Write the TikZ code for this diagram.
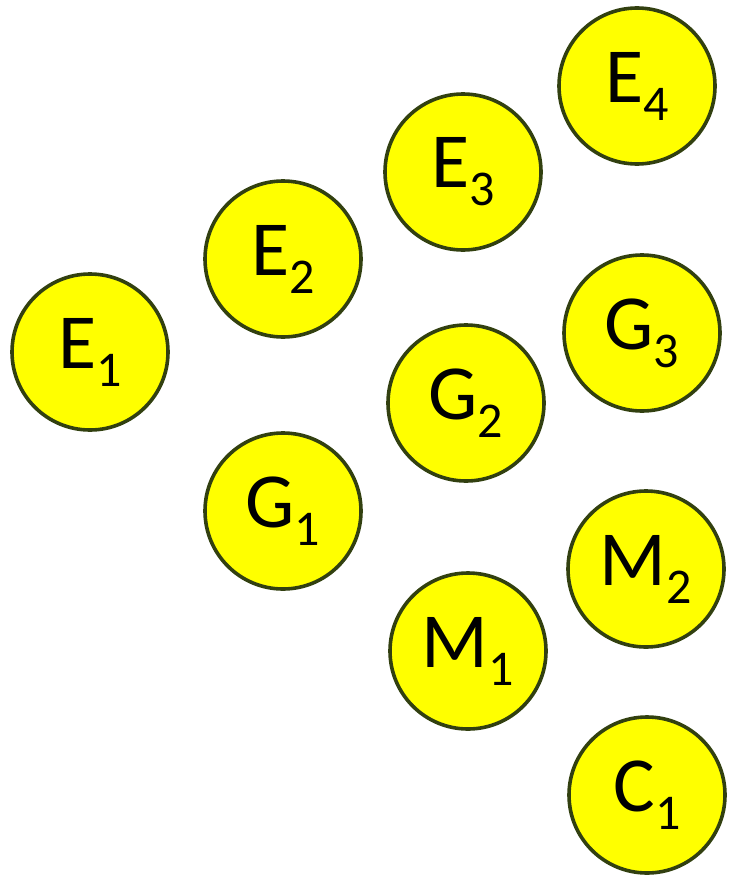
\documentclass[tikz,border=0pt]{standalone}
\usepackage{fontspec}
\setmainfont{Carlito}
\usepackage{tikz}
\definecolor{rim}{RGB}{50,64,16}
\definecolor{ballfill}{RGB}{255,255,0}
\newcommand{\sublab}[2]{#1\raisebox{-18pt}{\fontsize{50}{50}\selectfont #2}}

\begin{document}
\begin{tikzpicture}[x=1pt,y=-1pt,
  ball/.style={circle,draw=rim,fill=ballfill,line width=3.6pt,minimum size=156pt,inner sep=0pt,
    font=\fontsize{78}{80}\selectfont}]
\useasboundingbox(0,0)rectangle(728,875);
\node[ball](e1)at(90,352){\sublab{E}{1}};
\node[ball](e2)at(283,259){\sublab{E}{2}};
\node[ball](e3)at(463,172){\sublab{E}{3}};
\node[ball](e4)at(637,86){\sublab{E}{4}};
\node[ball](g1)at(283,511){\sublab{G}{1}};
\node[ball](g2)at(466,403){\sublab{G}{2}};
\node[ball](g3)at(642,333){\sublab{G}{3}};
\node[ball](m1)at(468,651){\sublab{M}{1}};
\node[ball](m2)at(646,569){\sublab{M}{2}};
\node[ball](c1)at(647,795){\sublab{C}{1}};
\end{tikzpicture}
\end{document}
